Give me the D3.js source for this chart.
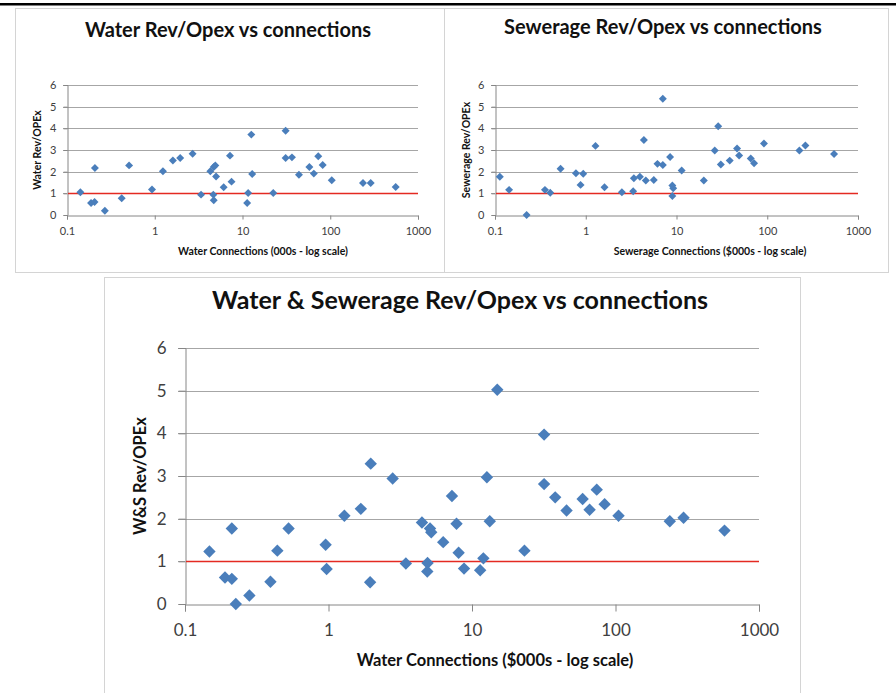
<!DOCTYPE html>
<html>
<head>
<meta charset="utf-8">
<script src="https://cdn.jsdelivr.net/npm/d3@7"></script>
<style>
	body { margin: 0; background: #fff; }
	text { font-family: Lato, "Open Sans", sans-serif; }
</style>
</head>
<body>
<div class="sheet"></div>
<script>
// values (x = connections in 000s, y = rev/opex ratio)
var waterX = [0.142, 0.188, 0.206, 0.208, 0.27, 0.42, 0.51, 0.93, 1.24, 1.61, 1.95, 2.7, 3.37,
	4.3, 4.7, 4.9, 4.65, 4.7, 5.0, 6.1, 7.2, 7.5, 11.3, 11.6, 12.6, 12.9, 22.4, 31, 31, 36.6,
	44, 57.8, 65, 73, 82, 104, 236, 289, 557];
var waterY = [1.05, 0.55, 0.6, 2.17, 0.2, 0.77, 2.29, 1.18, 2.02, 2.52, 2.63, 2.83, 0.94,
	2.02, 2.22, 2.29, 0.94, 0.68, 1.78, 1.28, 2.74, 1.54, 0.55, 1.02, 3.71, 1.89, 1.02, 3.89, 2.63, 2.66,
	1.86, 2.22, 1.91, 2.71, 2.31, 1.6, 1.48, 1.48, 1.29];

var sewerX = [0.113, 0.143, 0.223, 0.355, 0.406, 0.528, 0.78, 0.877, 0.938, 1.28, 1.61, 2.5, 3.33,
	3.39, 3.95, 4.37, 4.59, 5.62, 6.17, 7.07, 7.07, 8.5, 9.0, 9.2, 9.0, 11.4, 20, 26.4, 28.8,
	30.8, 38.6, 46.5, 49, 65.8, 71.6, 92, 226, 263, 545];
var sewerY = [1.77, 1.16, 0, 1.16, 1.03, 2.13, 1.93, 1.39, 1.9, 3.19, 1.28, 1.05, 1.1,
	1.7, 1.77, 3.46, 1.59, 1.62, 2.36, 5.37, 2.31, 2.68, 1.36, 1.23, 0.88, 2.05, 1.59, 2.98, 4.1,
	2.33, 2.51, 3.07, 2.75, 2.61, 2.39, 3.3, 2.98, 3.21, 2.82];

var wsX = [0.148, 0.19, 0.212, 0.212, 0.226, 0.281, 0.394, 0.44, 0.527, 0.955, 0.97, 1.29, 1.68,
	1.97, 1.95, 2.8, 3.46, 4.48, 4.88, 4.9, 5.1, 5.2, 6.3, 7.25, 7.8, 8.07, 8.8, 11.4, 12.0,
	12.7, 13.3, 15, 23.2, 31.8, 31.8, 38, 45.6, 59, 66, 74, 84, 105, 239, 298, 575];
var wsY = [1.23, 0.62, 0.59, 1.77, 0, 0.2, 0.52, 1.25, 1.77, 1.39, 0.82, 2.07, 2.23,
	3.29, 0.51, 2.94, 0.95, 1.91, 0.76, 0.96, 1.77, 1.68, 1.45, 2.53, 1.88, 1.2, 0.83, 0.79, 1.07,
	2.97, 1.94, 5.02, 1.25, 3.97, 2.81, 2.5, 2.19, 2.46, 2.21, 2.68, 2.34, 2.07, 1.94, 2.02, 1.72];

var xTicks = [0.1, 1, 10, 100, 1000];
var xTickLabels = ["0.1", "1", "10", "100", "1000"];
var yTicks = [0, 1, 2, 3, 4, 5, 6];
var breakEven = 1;

var BLUE = "#4a7ebb";
var RED = "#e42a22";

var svg = d3.select(".sheet").append("svg")
	.attr("width", 896)
	.attr("height", 693);

svg.append("rect").attr("width", 896).attr("height", 693).attr("fill", "#fff");
// black rule along the top of the page
svg.append("rect").attr("x", 0).attr("y", 3).attr("width", 896).attr("height", 2.5).attr("fill", "#000");

var drawChart = function(c, xs, ys) {
	var g = svg.append("g");

	g.append("rect")
		.attr("x", c.box[0] + 0.5).attr("y", c.box[1] + 0.5)
		.attr("width", c.box[2]).attr("height", c.box[3])
		.attr("fill", "#fff").attr("stroke", "#d4d4d4");

	var x = d3.scaleLog().domain([0.1, 1000]).range([c.left, c.right]);
	var y = d3.scaleLinear().domain([0, 6]).range([c.bottom, c.top]);

	// gridlines (the 1 line is the red break-even line instead)
	g.selectAll("line.grid").data(yTicks.slice(1)).enter()
		.append("line")
		.attr("x1", c.left - c.tick)
		.attr("x2", function(d) { return d === breakEven ? c.left : c.right; })
		.attr("y1", function(d) { return Math.round(y(d)) + 0.5; })
		.attr("y2", function(d) { return Math.round(y(d)) + 0.5; })
		.attr("stroke", "#a6a6a6");

	var xAxis = d3.axisBottom(x).tickValues(xTicks)
		.tickFormat(function(d, i) { return xTickLabels[i]; })
		.tickSize(c.tick).tickPadding(c.xPad);
	var yAxis = d3.axisLeft(y).tickValues(yTicks)
		.tickFormat(d3.format("d"))
		.tickSize(c.tick).tickPadding(c.yPad);

	var ax = g.append("g").attr("transform", "translate(0," + (Math.round(c.bottom) + 0.5) + ")").call(xAxis);
	var ay = g.append("g").attr("transform", "translate(" + (Math.round(c.left) + 0.5) + ",0)").call(yAxis);
	[ax, ay].forEach(function(a) {
		a.select(".domain").attr("stroke", "#868686");
		a.selectAll(".tick line").attr("stroke", "#868686");
		a.selectAll("text")
			.attr("fill", "#404040")
			.style("font-size", c.tickFont + "px")
			.style("font-family", "Lato, sans-serif");
	});

	// break-even line
	g.append("line")
		.attr("class", "breakeven")
		.attr("x1", c.left + 1).attr("x2", c.right)
		.attr("y1", Math.round(y(breakEven)) + 0.5).attr("y2", Math.round(y(breakEven)) + 0.5)
		.style("stroke", RED).style("stroke-width", "1.5px");

	var pts = xs.map(function(v, i) { return {x: v, y: ys[i]}; });
	// diamond2 is already a square turned on its corner; area = w*w/2
	g.selectAll("path.pt").data(pts).enter()
		.append("path")
		.attr("d", d3.symbol().type(d3.symbolDiamond2).size(c.mark * c.mark / 2))
		.attr("transform", function(d) { return "translate(" + x(d.x) + "," + y(d.y) + ")"; })
		.attr("fill", BLUE);

	g.append("text")
		.attr("x", c.title[0]).attr("y", c.title[1])
		.attr("text-anchor", "middle").attr("dominant-baseline", "middle")
		.style("font-size", c.titleFont + "px").style("font-weight", "bold")
		.attr("fill", "#111")
		.text(c.titleText);

	g.append("text")
		.attr("x", c.xlab[0]).attr("y", c.xlab[1])
		.attr("text-anchor", "middle").attr("dominant-baseline", "middle")
		.style("font-size", c.labFont + "px").style("font-weight", "bold")
		.attr("fill", "#111")
		.text(c.xText);

	g.append("text")
		.attr("transform", "translate(" + c.ylab[0] + "," + c.ylab[1] + ") rotate(-90)")
		.attr("text-anchor", "middle").attr("dominant-baseline", "middle")
		.style("font-size", c.labFont + "px").style("font-weight", "bold")
		.attr("fill", "#111")
		.text(c.yText);
};

drawChart({
	box: [15, 8, 429, 264], left: 67, right: 418, top: 85, bottom: 215,
	tick: 4, xPad: 8, yPad: 7, tickFont: 11, mark: 9,
	title: [228, 32], titleFont: 20, titleText: "Water Rev/Opex vs connections",
	xlab: [263, 252], ylab: [38, 150], labFont: 10.5,
	xText: "Water Connections (000s - log scale)", yText: "Water Rev/OPEx"
}, waterX, waterY);

drawChart({
	box: [444, 8, 444, 264], left: 495, right: 858, top: 85, bottom: 215,
	tick: 4, xPad: 8, yPad: 7, tickFont: 11, mark: 9,
	title: [663, 29], titleFont: 20, titleText: "Sewerage Rev/Opex vs connections",
	xlab: [710, 252], ylab: [467, 150], labFont: 10.5,
	xText: "Sewerage Connections ($000s - log scale)", yText: "Sewerage Rev/OPEx"
}, sewerX, sewerY);

drawChart({
	box: [104, 277, 696, 430], left: 185, right: 759, top: 348, bottom: 604,
	tick: 7, xPad: 12, yPad: 12, tickFont: 17, mark: 14,
	title: [460, 303], titleFont: 25, titleText: "Water & Sewerage Rev/Opex vs connections",
	xlab: [495, 662], ylab: [142, 476], labFont: 16.5,
	xText: "Water Connections ($000s - log scale)", yText: "W&S Rev/OPEx"
}, wsX, wsY);
</script>
</body>
</html>
